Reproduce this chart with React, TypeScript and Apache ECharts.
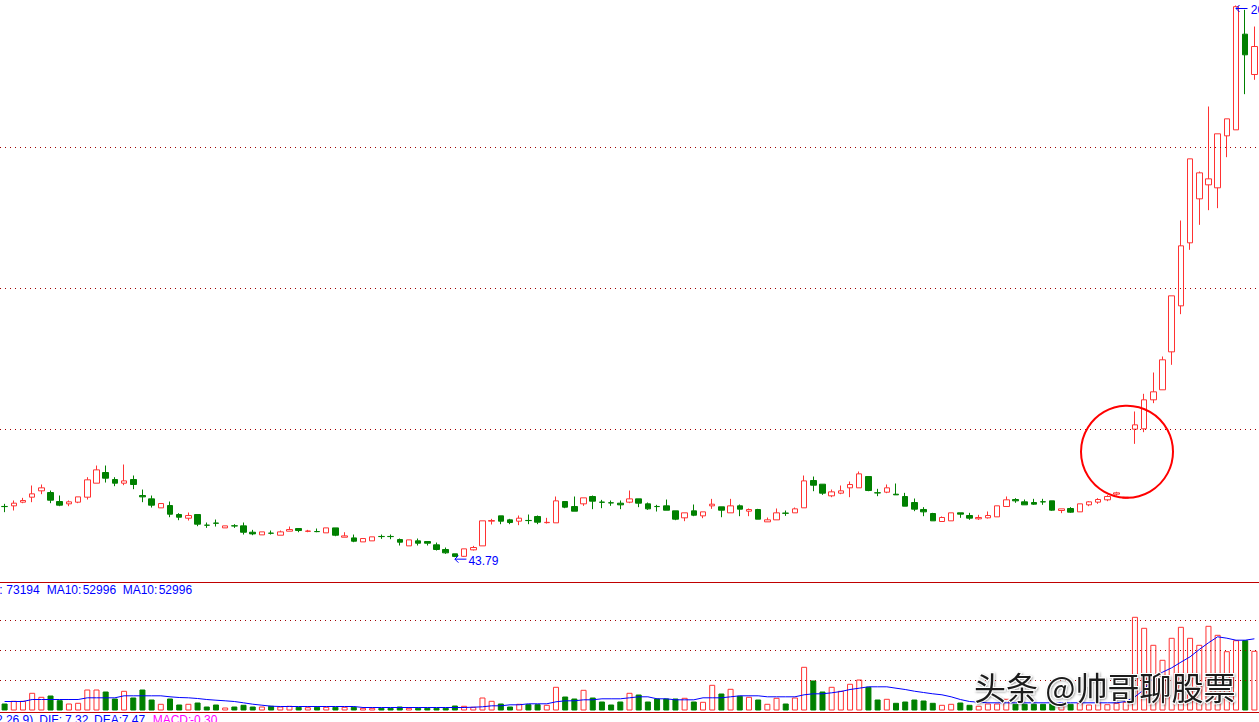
import React, { useEffect, useRef } from "react";
import * as echarts from "echarts";

// [open, close, low, high]
const ohlc: number[][] = [
  [58.17, 58.13, 56.55, 58.91], [58.34, 59.10, 57.02, 59.86], [59.38, 59.86, 59.10, 60.61], [60.80, 61.75, 59.38, 64.11],
  [62.60, 63.45, 61.65, 64.40], [62.12, 59.95, 59.10, 62.69], [59.57, 58.53, 58.25, 61.27], [58.91, 59.48, 58.25, 59.86],
  [59.38, 60.89, 59.10, 60.89], [60.80, 65.72, 60.13, 66.47], [64.77, 68.55, 64.77, 69.78], [67.80, 66.19, 64.96, 69.78],
  [65.81, 64.77, 63.92, 66.47], [64.77, 65.43, 64.20, 70.07], [65.81, 64.40, 63.07, 66.95], [61.27, 60.89, 59.38, 62.97],
  [60.32, 58.53, 57.86, 61.27], [57.77, 59.00, 57.77, 59.00], [58.43, 55.97, 55.12, 59.57], [55.88, 55.12, 54.27, 56.26],
  [54.84, 55.59, 54.18, 56.45], [55.88, 53.14, 52.57, 55.88], [52.87, 52.83, 52.09, 53.61], [53.46, 53.40, 52.47, 54.46],
  [52.09, 52.66, 52.09, 52.66], [52.68, 52.64, 52.09, 53.14], [52.66, 50.86, 50.20, 53.61], [50.86, 50.39, 50.01, 51.53],
  [50.11, 50.96, 50.11, 50.96], [50.60, 50.56, 50.20, 51.34], [50.01, 50.96, 50.01, 51.34], [51.15, 51.62, 51.15, 52.47],
  [51.91, 51.34, 50.86, 51.91], [51.11, 51.20, 50.86, 51.53], [51.06, 51.02, 50.86, 51.91], [50.68, 52.09, 50.68, 52.09],
  [52.09, 50.01, 49.73, 52.09], [49.44, 49.82, 49.44, 50.86], [49.25, 48.31, 48.03, 50.20], [48.12, 49.07, 48.12, 49.07],
  [48.41, 49.55, 48.41, 49.55], [49.66, 49.62, 48.97, 50.20], [49.66, 49.62, 48.88, 50.20], [48.78, 48.03, 47.09, 49.07],
  [46.99, 48.69, 46.99, 48.69], [48.41, 47.74, 47.09, 49.07], [48.22, 47.74, 47.09, 48.22], [47.28, 45.96, 45.67, 47.93],
  [45.96, 45.01, 44.73, 46.52], [44.73, 44.00, 43.79, 44.73], [44.02, 46.14, 43.85, 46.14], [45.86, 46.52, 45.67, 46.99],
  [46.99, 54.09, 46.99, 54.09], [53.99, 54.18, 53.05, 54.65], [55.50, 53.99, 53.14, 55.50], [54.37, 53.61, 53.14, 54.65],
  [53.99, 54.84, 52.86, 55.60], [54.20, 54.16, 53.14, 55.88], [55.32, 53.71, 53.14, 55.60], [53.57, 53.66, 53.33, 54.94],
  [53.52, 59.76, 53.52, 60.99], [59.57, 57.97, 57.68, 59.57], [58.15, 56.83, 56.83, 60.99], [58.91, 60.61, 58.34, 60.61],
  [60.99, 59.67, 57.40, 61.27], [59.40, 59.36, 57.68, 60.04], [59.21, 59.17, 58.34, 59.86], [59.10, 58.63, 57.40, 59.86],
  [59.38, 60.32, 59.10, 62.69], [60.32, 59.10, 57.97, 60.32], [58.91, 57.49, 57.21, 59.29], [58.17, 58.13, 56.73, 58.63],
  [58.34, 57.11, 57.11, 60.13], [56.92, 54.56, 54.27, 56.92], [54.94, 56.36, 53.99, 56.36], [56.92, 55.69, 55.41, 58.72],
  [55.50, 56.64, 54.84, 56.64], [58.34, 58.81, 57.49, 60.32], [58.06, 57.11, 55.12, 58.06], [56.36, 58.34, 56.36, 60.32],
  [58.34, 57.40, 55.41, 58.72], [56.83, 57.30, 55.41, 57.59], [57.30, 54.56, 54.56, 57.49], [53.80, 54.37, 53.80, 55.03],
  [54.37, 56.36, 54.37, 57.59], [56.28, 56.24, 55.50, 57.02], [56.36, 57.49, 56.36, 57.87], [57.78, 65.43, 57.78, 66.95],
  [65.53, 64.20, 62.50, 66.66], [64.49, 61.94, 61.46, 64.49], [61.18, 62.31, 60.80, 62.97], [61.94, 62.60, 61.65, 64.11],
  [63.45, 64.40, 60.80, 65.25], [63.45, 67.42, 63.45, 68.08], [66.66, 62.69, 62.50, 66.66], [62.05, 62.00, 61.09, 63.17],
  [62.22, 63.45, 61.94, 64.40], [61.65, 61.46, 61.46, 64.68], [60.99, 58.25, 58.25, 62.03], [59.29, 57.40, 56.83, 60.42],
  [57.31, 56.64, 55.41, 57.97], [56.17, 54.09, 54.09, 56.36], [53.90, 55.04, 53.90, 55.32], [54.09, 56.36, 54.09, 56.36],
  [56.36, 55.98, 54.94, 56.36], [55.60, 54.85, 54.37, 56.36], [54.66, 55.04, 54.37, 55.79], [54.94, 55.60, 54.75, 56.74],
  [55.22, 58.35, 55.22, 58.35], [58.16, 60.05, 58.16, 61.00], [60.14, 59.76, 59.20, 60.52], [59.48, 58.63, 58.63, 60.14],
  [59.29, 58.82, 58.63, 60.33], [59.50, 59.46, 58.63, 60.33], [59.76, 57.12, 56.93, 59.76], [57.02, 57.49, 56.27, 57.49],
  [57.59, 56.55, 56.36, 57.97], [56.64, 58.91, 56.64, 58.91], [58.63, 59.48, 58.25, 59.67], [59.39, 60.14, 58.91, 60.52],
  [60.05, 61.00, 59.67, 61.37], [61.66, 62.03, 61.28, 62.32], [60.52, 60.80, 60.45, 60.85], [80.09, 81.32, 75.93, 85.11],
  [80.19, 88.42, 79.24, 90.12], [88.42, 90.69, 87.47, 96.17], [91.26, 99.77, 91.26, 100.71], [102.03, 117.92, 98.35, 117.92],
  [115.08, 132.11, 112.72, 139.29], [132.96, 156.78, 130.97, 156.78], [145.44, 152.81, 138.06, 153.19], [149.41, 151.11, 142.22, 171.63],
  [148.56, 163.88, 142.79, 163.88], [163.31, 168.13, 157.26, 168.13], [165.01, 199.95, 165.01, 200.28], [192.15, 186.29, 175.13, 199.05],
  [180.71, 188.65, 179.20, 194.32],
];

const volumes: number[] = [
  7000, 9700, 9700, 17700, 13700, 15000, 10300, 7000, 7700, 21000,
  21000, 19000, 12000, 19700, 13000, 21000, 11000, 6700, 12000, 6000,
  6700, 8000, 4000, 6000, 3000, 4000, 5700, 4000, 4000, 4700,
  4000, 4700, 3700, 3300, 3700, 3700, 3700, 3700, 3700, 2700,
  2700, 2700, 2700, 4000, 2700, 2700, 2700, 2700, 2700, 5000,
  4700, 3700, 13000, 9700, 7000, 4000, 6700, 6300, 6300, 5700,
  23700, 14000, 12000, 20700, 13000, 9000, 6000, 9000, 17700, 16000,
  9000, 12000, 12000, 12000, 12700, 9000, 8700, 25700, 17000, 21700,
  14700, 13700, 11000, 6700, 12700, 7000, 13000, 43700, 30000, 19000,
  23700, 19700, 26700, 31000, 23700, 11000, 11700, 7700, 9000, 11000,
  10000, 7700, 5700, 6700, 8000, 5700, 4700, 7000, 7000, 11700,
  6700, 6700, 6700, 6700, 7000, 4700, 6700, 7700, 6000, 7700,
  6300, 7700, 8700, 93700, 82700, 65700, 50700, 72700, 83700, 72700,
  65700, 84700, 75700, 59300, 70300, 70300, 59700,
];

const volMA: number[] = [
  9000, 9000, 9000, 11000, 11000, 11000, 11000, 11000, 11000, 12700,
  12700, 12700, 12700, 14700, 14700, 14700, 14700, 14700, 13700, 13000,
  12700, 12000, 11000, 10300, 9700, 9000, 7700, 6300, 5300, 4300,
  4000, 4000, 4000, 4000, 4000, 4000, 4000, 4000, 4000, 3000,
  3000, 3000, 3000, 3000, 3000, 3000, 3000, 3000, 3000, 3000,
  3000, 3300, 3700, 4700, 4700, 5700, 5700, 6700, 6700, 6700,
  8700, 9700, 9700, 10700, 10700, 11700, 11700, 11700, 12700, 13700,
  13700, 11700, 11700, 10700, 10700, 10700, 12700, 12700, 12700, 13700,
  14700, 14700, 14700, 13700, 13700, 13700, 13700, 15700, 16700, 16700,
  17700, 19000, 21000, 22300, 23700, 23700, 23700, 22300, 21000, 19300,
  18000, 16700, 15700, 13700, 11000, 9000, 8300, 7700, 7700, 7700,
  7700, 7700, 7700, 7700, 7700, 7700, 7700, 7700, 7700, 7700,
  7700, 7700, 9000, 13700, 21000, 32700, 38300, 42700, 48300, 53700,
  61000, 67700, 73700, 72300, 70300, 70300, 71700,
];

const days: string[] = ohlc.map((_, i) => `${i + 1}`);
const priceGridLevels: number[] = [80, 120, 160];
const volGridLevels: number[] = [30000, 60000, 90000];

const topHeader = "MA5: 186.77  MA10: 150.35";
const volHeader: string[] = ["VOLUME:", "73194", "MA10:", "52996", "MA10:", "52996"];
const macdHeader: string[] = ["MACD(12,26,9)", "DIF:", "7.32", "DEA:", "7.47", "MACD:", "-0.30"];
const watermark = "头条 @帅哥聊股票";

const UP = "#ff3232";
const DOWN = "#008000";
const SEP = "#c00000";
const GRIDC = "#a00000";
const BLUE = "#0000ff";
const FONT = '12px "Liberation Sans", Arial, sans-serif';

export default function App() {
  const ref = useRef<HTMLDivElement>(null);

  useEffect(() => {
    document.body.style.margin = "0";
    const chart = echarts.init(ref.current!, null, { renderer: "svg" });

    const volUp = volumes.map((v, i) => (ohlc[i][1] >= ohlc[i][0] ? v : "-"));
    const volDown = volumes.map((v, i) => (ohlc[i][1] < ohlc[i][0] ? v : "-"));
    const dotted = { color: GRIDC, type: [1, 4] as any, width: 1 };

    chart.setOption({
      animation: false,
      backgroundColor: "#ffffff",
      grid: [
        { left: -1.91, right: -2.23, top: 0, height: 582 },
        { left: -1.91, right: -2.23, top: 581.5, height: 129 },
      ],
      xAxis: [
        { type: "category", data: days, gridIndex: 0, show: false },
        { type: "category", data: days, gridIndex: 1, show: false },
      ],
      yAxis: [
        { type: "value", gridIndex: 0, min: 36.738, max: 201.844, show: false, splitLine: { show: false } },
        { type: "value", gridIndex: 1, min: 0, max: 129000, show: false, splitLine: { show: false } },
      ],
      series: [
        {
          type: "candlestick",
          xAxisIndex: 0,
          yAxisIndex: 0,
          data: ohlc,
          barWidth: 6,
          itemStyle: {
            color: "#ffffff",
            color0: DOWN,
            borderColor: UP,
            borderColor0: DOWN,
            borderWidth: 1,
          },
          markLine: {
            silent: true,
            symbol: ["none", "none"],
            label: { show: false },
            lineStyle: dotted,
            data: priceGridLevels.map((v) => ({ yAxis: v })),
          },
        },
        {
          type: "bar",
          xAxisIndex: 1,
          yAxisIndex: 1,
          data: volUp,
          barWidth: 6,
          barGap: "-100%",
          itemStyle: { color: "#ffffff", borderColor: UP, borderWidth: 1 },
          markLine: {
            silent: true,
            symbol: ["none", "none"],
            label: { show: false },
            lineStyle: dotted,
            data: volGridLevels.map((v) => ({ yAxis: v })),
          },
        },
        {
          type: "bar",
          xAxisIndex: 1,
          yAxisIndex: 1,
          data: volDown,
          barWidth: 6,
          barGap: "-100%",
          itemStyle: { color: DOWN, borderColor: DOWN, borderWidth: 1 },
        },
        {
          type: "line",
          xAxisIndex: 1,
          yAxisIndex: 1,
          data: volMA,
          symbol: "none",
          lineStyle: { color: BLUE, width: 1 },
          z: 5,
        },
      ],
    });

    // extreme labels
    let lo = 0, hi = 0;
    ohlc.forEach((d, i) => {
      if (d[2] < ohlc[lo][2]) lo = i;
      if (d[3] > ohlc[hi][3]) hi = i;
    });
    const pLo = chart.convertToPixel({ gridIndex: 0 }, [days[lo], ohlc[lo][2]]) as number[];
    const pHi = chart.convertToPixel({ gridIndex: 0 }, [days[hi], ohlc[hi][3]]) as number[];
    const arrow = (x: number, y: number, label: string, gap: number) => [
      { type: "polyline", shape: { points: [[x + 3.5, y - 3.5], [x, y], [x + 3.5, y + 3.5]] }, style: { stroke: BLUE, fill: "none", lineWidth: 1 }, z: 20 },
      { type: "line", shape: { x1: x, y1: y, x2: x + 11.5, y2: y }, style: { stroke: BLUE, lineWidth: 1 }, z: 20 },
      { type: "text", x: x + gap, y: y + 1.5, style: { text: label, fill: BLUE, font: FONT, verticalAlign: "middle" }, z: 20 },
    ];

    const hxs = [2.6, 6.3, 46.7, 82.7, 122.7, 158.7];
    const mxs = [33.3, 39.3, 65, 94, 121.7, 152.7, 190];

    chart.setOption({
      graphic: [
        { type: "line", shape: { x1: 0, y1: 582.5, x2: 1259, y2: 582.5 }, style: { stroke: SEP, lineWidth: 1 }, z: 10 },
        { type: "line", shape: { x1: 0, y1: 712.5, x2: 1259, y2: 712.5 }, style: { stroke: SEP, lineWidth: 1 }, z: 10 },
        ...arrow(pLo[0], pLo[1] + 2, ohlc[lo][2].toFixed(2), 13.5),
        ...arrow(pHi[0], pHi[1] + 3, ohlc[hi][3].toFixed(2), 14.8),
        { type: "circle", shape: { cx: 1127, cy: 451.7, r: 46 }, style: { fill: "none", stroke: "#ff0000", lineWidth: 2 }, z: 15 },
        { type: "text", x: 5, y: 2, style: { text: topHeader, fill: BLUE, font: FONT, verticalAlign: "bottom" }, z: 20 },
        ...volHeader.map((t, i) => ({
          type: "text", x: hxs[i], y: 589.7, z: 20,
          style: { text: t, fill: BLUE, font: FONT, verticalAlign: "middle", align: i === 0 ? "right" : "left" },
        })),
        ...macdHeader.map((t, i) => ({
          type: "text", x: mxs[i], y: 720.4, z: 20,
          style: { text: t, fill: i >= 5 ? "#ff00ff" : BLUE, font: FONT, verticalAlign: "middle", align: i === 0 ? "right" : "left" },
        })),
        {
          type: "text", x: 974, y: 685.5, z: 30,
          style: {
            text: watermark, fill: "#1e1e1e", font: '32px "Noto Sans CJK SC", sans-serif', verticalAlign: "middle",
            stroke: "#ffffff", lineWidth: 2, textShadowColor: "rgba(0,0,0,0.35)", textShadowBlur: 2, textShadowOffsetX: 1, textShadowOffsetY: 1,
          },
        },
      ],
    });

    return () => chart.dispose();
  }, []);

  return <div ref={ref} style={{ position: "fixed", left: 0, top: 0, width: 1259, height: 722 }} />;
}
